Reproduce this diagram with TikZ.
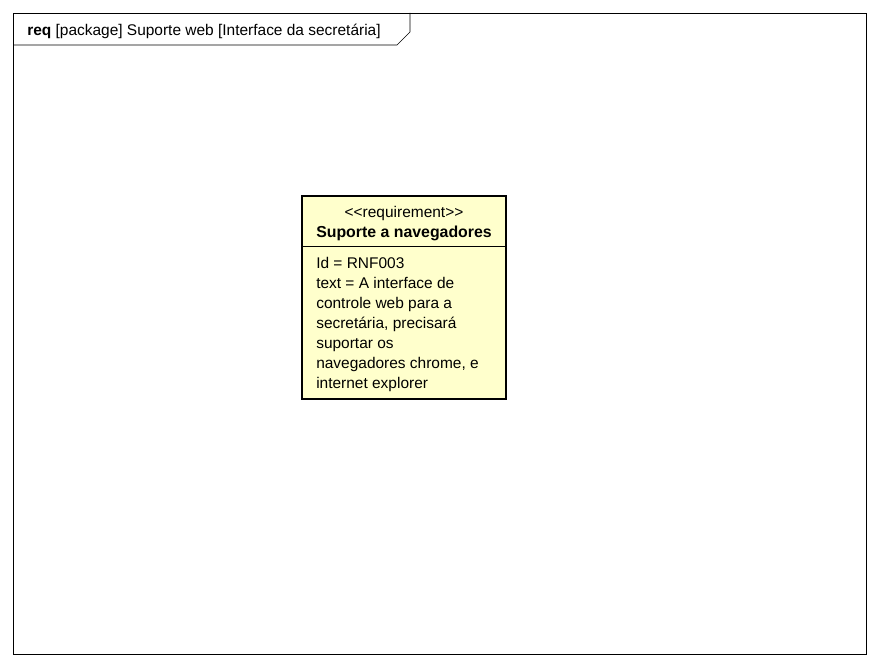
\documentclass[tikz,border=0pt]{standalone}
\usepackage{fontspec}
\setmainfont{Liberation Sans}
\usepackage{xcolor}
\usetikzlibrary{positioning}
\definecolor{reqfill}{HTML}{FFFFCC}

\begin{document}
\begin{tikzpicture}[x=0.75pt,y=-0.75pt,font=\fontsize{11.6}{15}\selectfont]
			\useasboundingbox (0,0) rectangle (880,666);
			\draw (13,13) rectangle (866,654);
			\draw (13,45) -- (397,45) -- (410,32) -- (410,13);
			\node[anchor=base west, inner sep=0] (frametitle) at (27,36) {\textbf{req} [package] Suporte web [Interface da secretária]};
			\draw[fill=reqfill, line width=1.8pt] (302,196) rectangle (506,399);
			\draw (302,246) -- (506,246);
			\node[anchor=base, inner sep=0] (stereo) at (404,218) {{<}{<}requirement{>}{>}};
			\node[anchor=base, inner sep=0, font=\fontsize{11.9}{15}\bfseries] (reqname) at (404,238) {Suporte a navegadores};
			\node[anchor=north west, inner sep=0, align=left] (reqtext) at (316,257) {Id = RNF003\\text = A interface de\\controle web para a\\secretária, precisará\\suportar os\\navegadores chrome, e\\internet explorer};
		\end{tikzpicture}
\end{document}
